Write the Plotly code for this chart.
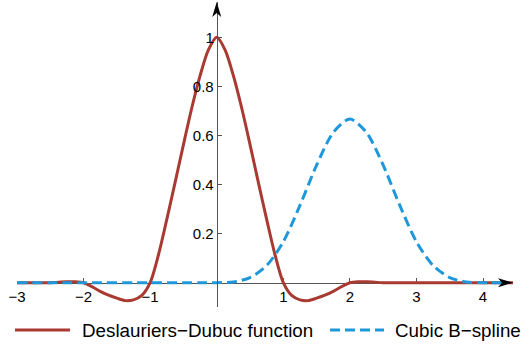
import plotly.graph_objects as go

# ---- data ----
dd_x = [-3, -2.75, -2.5, -2.375, -2.25, -2.125, -2, -1.875, -1.75, -1.625, -1.5,
        -1.375, -1.25, -1.125, -1, -0.875, -0.75, -0.625, -0.5, -0.375, -0.25,
        -0.125, 0, 0.125, 0.25, 0.375, 0.5, 0.625, 0.75, 0.875, 1, 1.125, 1.25,
        1.375, 1.5, 1.625, 1.75, 1.875, 2, 2.125, 2.25, 2.375, 2.5, 2.75, 3,
        3.5, 4, 4.45]
dd_y = [0, 0, 0, 0.002, 0.004, 0.004, 0, -0.016, -0.035, -0.051, -0.063,
        -0.073, -0.070, -0.052, 0, 0.114, 0.258, 0.409, 0.563, 0.712, 0.844,
        0.949, 1, 0.949, 0.844, 0.712, 0.563, 0.409, 0.258, 0.114, 0, -0.052, -0.070,
        -0.073, -0.063, -0.051, -0.035, -0.016, 0, 0.004, 0.004, 0.002, 0, 0, 0,
        0, 0, 0]

bs_x = [-3, -2, -1, -0.5, -0.25, 0, 0.25, 0.5, 0.75, 1, 1.25, 1.5, 1.75, 2,
        2.25, 2.5, 2.75, 3, 3.25, 3.5, 3.75, 4, 4.3]
bs_y = [0, 0, 0, 0, 0, 0, 0.003, 0.021, 0.070, 0.167, 0.315, 0.479, 0.612, 0.667,
        0.612, 0.479, 0.315, 0.167, 0.070, 0.021, 0.003, 0, 0]

x_ticks = [-3, -2, -1, 1, 2, 3, 4]
x_ticktext = ["\u22123", "\u22122", "\u22121", "1", "2", "3", "4"]
y_ticks = [0.2, 0.4, 0.6, 0.8, 1.0]
y_ticktext = ["0.2", "0.4", "0.6", "0.8", "1"]

series_names = ["Deslauriers\u2212Dubuc function", "Cubic B\u2212spline"]

# ---- layout geometry ----
W, H = 526, 344
ML, MR, MT, MB = 17, 13, 2, 37
PW, PH = W - ML - MR, H - MT - MB
x_min, x_max = -3.0, 4.45
y_min, y_max = -0.099, 1.144
sx = PW / (x_max - x_min)
sy = PH / (y_max - y_min)

RED = "#a83a32"
BLUE = "#1f98db"
AXIS = "#555555"
FONT = "Liberation Sans, Arial, Helvetica, sans-serif"

fig = go.Figure()
fig.add_trace(go.Scatter(x=dd_x, y=dd_y, mode="lines", line=dict(color=RED, width=3, shape="spline", smoothing=0.8),
                         name=series_names[0], showlegend=False))
fig.add_trace(go.Scatter(x=bs_x, y=bs_y, mode="lines", line=dict(color=BLUE, width=3, dash="10px,5px", shape="spline", smoothing=0.8),
                         name=series_names[1], showlegend=False))

xpos = (0 - y_min) / (y_max - y_min)
ypos = (0 - x_min) / (x_max - x_min)

fig.update_layout(
    width=W, height=H, autosize=False,
    margin=dict(l=ML, r=MR, t=MT, b=MB, pad=0),
    paper_bgcolor="white", plot_bgcolor="white",
    font=dict(family=FONT, size=15, color="black"),
    xaxis=dict(range=[x_min, x_max], anchor="free", position=xpos, showgrid=False, zeroline=False,
               showline=True, linecolor=AXIS, linewidth=1, ticks="inside", ticklen=5, tickcolor=AXIS,
               tickwidth=1, tickvals=x_ticks, ticktext=x_ticktext, tickfont=dict(size=15),
               automargin=False, layer="below traces"),
    yaxis=dict(range=[y_min, y_max], anchor="free", position=ypos, showgrid=False, zeroline=False,
               showline=True, linecolor=AXIS, linewidth=1, ticks="inside", ticklen=4, tickcolor=AXIS,
               tickwidth=1, tickvals=y_ticks, ticktext=y_ticktext, tickfont=dict(size=15),
               automargin=False, layer="above traces"),
)

# arrowheads
L, HW, N = 15, 4.5, 11
xa = (f"M {x_max},0 L {x_max - L/sx},{HW/sy} L {x_max - N/sx},0 "
      f"L {x_max - L/sx},{-HW/sy} Z")
ya = (f"M 0,{y_max} L {HW/sx},{y_max - L/sy} L 0,{y_max - N/sy} "
      f"L {-HW/sx},{y_max - L/sy} Z")
for p in (xa, ya):
    fig.add_shape(type="path", path=p, xref="x", yref="y", fillcolor="black",
                  line=dict(width=0), layer="above")

# manual legend
def px_x(px):
    return (px - ML) / PW

def px_y(py):
    return (H - MB - py) / PH

ly = px_y(330)
fig.add_shape(type="line", xref="paper", yref="paper", x0=px_x(15), x1=px_x(70), y0=ly, y1=ly,
              line=dict(color=RED, width=3))
fig.add_shape(type="line", xref="paper", yref="paper", x0=px_x(330), x1=px_x(384), y0=ly, y1=ly,
              line=dict(color=BLUE, width=3, dash="10px,5px"))
fig.add_annotation(xref="paper", yref="paper", x=px_x(80), y=ly, xanchor="left", yanchor="middle",
                   text=series_names[0], showarrow=False, font=dict(size=18.8, family=FONT, color="black"))
fig.add_annotation(xref="paper", yref="paper", x=px_x(393), y=ly, xanchor="left", yanchor="middle",
                   text=series_names[1], showarrow=False, font=dict(size=18.8, family=FONT, color="black"))

fig.write_html("out.html")
